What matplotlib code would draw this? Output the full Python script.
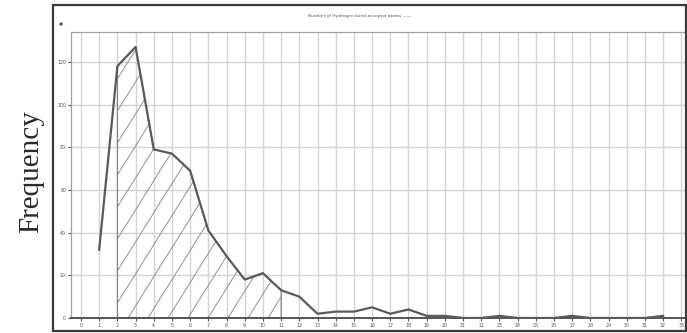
import numpy as np
import matplotlib
matplotlib.use("Agg")
import matplotlib.pyplot as plt
from matplotlib.patches import Polygon, Rectangle

# Frequency of molecules by number of hydrogen bond acceptor atoms
acceptor_counts = list(range(1, 33))
frequency = [32, 118, 127, 79, 77, 69, 41, 29, 18, 21, 13, 10, 2, 3, 3, 5,
             2, 4, 1, 1, 0, 0, 1, 0, 0, 0, 1, 0, 0, 0, 0, 1]
x_ticks = list(range(0, 34))
y_ticks = [0, 20, 40, 60, 80, 100, 120]
shade_from, shade_to = 2, 11

W, H = 687, 333
fig = plt.figure(figsize=(W / 100, H / 100), dpi=100)
fig.patch.set_facecolor("white")

# outer frame of the panel
fig.patches.append(Rectangle((53 / W, 2 / H), (686 - 53) / W, (328 - 2) / H,
                             transform=fig.transFigure, fill=False,
                             edgecolor="#3a3a3a", linewidth=1.6, zorder=0))

ax = fig.add_axes([71 / W, 1 - 318 / H, (685 - 71) / W, (318 - 32) / H])
ax.set_xlim(-0.55, 33.2)
ax.set_ylim(0, 134)

ax.set_xticks(x_ticks)
ax.set_xticklabels([str(v) for v in x_ticks])
ax.set_yticks(y_ticks)
ax.set_yticklabels([str(v) for v in y_ticks])
ax.tick_params(axis="both", labelsize=3.4, colors="#555555", length=2.5,
               width=0.8, pad=1)
ax.grid(True, color="#d4d4d4", linewidth=1.0)
ax.set_axisbelow(True)
for side in ("left", "right", "top"):
    ax.spines[side].set_color("#a0a0a0")
    ax.spines[side].set_linewidth(0.9)
ax.spines["right"].set_visible(False)
ax.spines["bottom"].set_color("#555555")
ax.spines["bottom"].set_linewidth(1.4)

x = np.array(acceptor_counts, dtype=float)
y = np.array(frequency, dtype=float)

# shaded region under the curve with diagonal hatching
mask = (x >= shade_from) & (x <= shade_to)
xs, ys = x[mask], y[mask]
verts = [(xs[0], 0)] + list(zip(xs, ys)) + [(xs[-1], 0)]
region = Polygon(verts, closed=True, facecolor="none", edgecolor="#808080",
                 linewidth=0.8, zorder=2)
ax.add_patch(region)

# hatch lines: steep diagonals clipped to the region
px_per_x = (685 - 71) / (33.2 + 0.55)
px_per_y = (318 - 32) / 134
slope_px = 1.6
slope = slope_px * px_per_x / px_per_y
step = 20 / px_per_x
top = ys.max()
for c in np.arange(xs[0] - top / slope, xs[-1] + step, step):
    ln, = ax.plot([c, c + top / slope], [0, top], color="#909090",
                  linewidth=0.7, zorder=2)
    ln.set_clip_path(region)

ax.plot(x, y, color="#5a5a5a", linewidth=1.6, zorder=3)

fig.text(360 / W, 1 - 16 / H, "Number of Hydrogen bond acceptor atoms \u2014\u2014",
         fontsize=3.2, color="#555555", ha="center", va="center")
fig.text(61 / W, 1 - 25 / H, "#", fontsize=3.5, color="#333333",
         ha="center", va="center", fontweight="bold")
fig.text(31 / W, 1 - 172 / H, "Frequency", rotation=90, fontsize=21,
         family=["Liberation Serif", "DejaVu Serif"], color="#2a2a2a",
         ha="center", va="center")

fig.savefig("out.png", dpi=100, facecolor="white")
